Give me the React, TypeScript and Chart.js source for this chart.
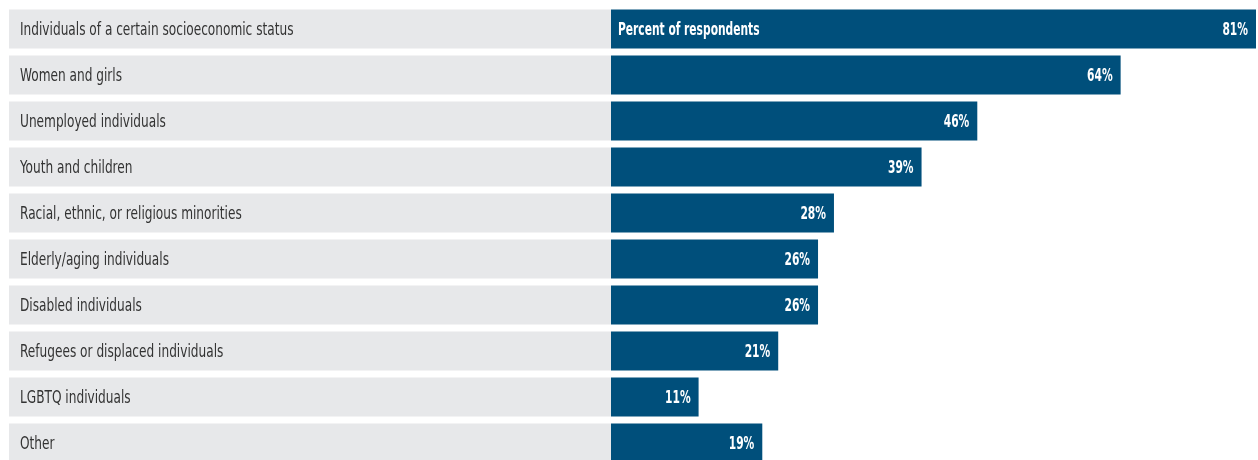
import React, { useEffect, useRef } from "react";
import { Chart, registerables } from "chart.js";

Chart.register(...registerables);

const categories: string[] = [
  "Individuals of a certain socioeconomic status",
  "Women and girls",
  "Unemployed individuals",
  "Youth and children",
  "Racial, ethnic, or religious minorities",
  "Elderly/aging individuals",
  "Disabled individuals",
  "Refugees or displaced individuals",
  "LGBTQ individuals",
  "Other",
];

const values: number[] = [81, 64, 46, 39, 28, 26, 26, 21, 11, 19];

const seriesTitle = "Percent of respondents";

const BAR_COLOR = "#004f7b";
const ROW_GRAY = "#e7e8ea";
const LABEL_COLOR = "#333333";
const FONT_FAMILY = "'DejaVu Sans Condensed', 'DejaVu Sans', sans-serif";
const LABEL_SX = 0.75;
const BOLD_SX = 0.66;

function drawText(
  ctx: CanvasRenderingContext2D,
  text: string,
  x: number,
  y: number,
  align: CanvasTextAlign,
  sx: number
) {
  ctx.save();
  ctx.translate(x, y);
  ctx.scale(sx, 1);
  ctx.textAlign = align;
  ctx.textBaseline = "middle";
  ctx.fillText(text, 0, 0);
  ctx.restore();
}

const rowsPlugin = {
  id: "rowsPlugin",
  beforeDatasetsDraw(chart: any) {
    const ctx = chart.ctx as CanvasRenderingContext2D;
    const meta = chart.getDatasetMeta(0);
    const area = chart.chartArea;
    ctx.save();
    meta.data.forEach((bar: any, i: number) => {
      const h = bar.height;
      ctx.fillStyle = ROW_GRAY;
      ctx.fillRect(9, bar.y - h / 2, area.left - 9, h);
      ctx.fillStyle = LABEL_COLOR;
      ctx.font = `18px ${FONT_FAMILY}`;
      drawText(ctx, categories[i], 20, bar.y + 1, "left", LABEL_SX);
    });
    ctx.restore();
  },
  afterDatasetsDraw(chart: any) {
    const ctx = chart.ctx as CanvasRenderingContext2D;
    const meta = chart.getDatasetMeta(0);
    const area = chart.chartArea;
    ctx.save();
    ctx.fillStyle = "#ffffff";
    ctx.font = `bold 18px ${FONT_FAMILY}`;
    meta.data.forEach((bar: any, i: number) => {
      drawText(ctx, `${values[i]}%`, bar.x - 8, bar.y + 1, "right", BOLD_SX);
    });
    const first = meta.data[0];
    drawText(ctx, seriesTitle, area.left + 7, first.y + 1, "left", BOLD_SX);
    ctx.restore();
  },
};

export default function App() {
  const ref = useRef<HTMLCanvasElement | null>(null);
  useEffect(() => {
    if (!ref.current) return;
    const chart = new Chart(ref.current, {
      type: "bar",
      data: {
        labels: categories,
        datasets: [
          {
            data: values,
            backgroundColor: BAR_COLOR,
            barPercentage: 39 / 46,
            categoryPercentage: 1,
          },
        ],
      },
      options: {
        indexAxis: "y",
        responsive: false,
        animation: false,
        events: [],
        layout: { padding: { left: 611, right: 2, top: 6, bottom: 4 } },
        plugins: { legend: { display: false }, tooltip: { enabled: false } },
        scales: {
          x: { display: false, min: 0, max: 81 },
          y: { display: false },
        },
      },
      plugins: [rowsPlugin],
    });
    return () => chart.destroy();
  }, []);
  return (
    <div style={{ position: "absolute", left: 0, top: 0, width: 1258, height: 460, overflow: "hidden", background: "#fff" }}>
      <canvas ref={ref} width={1258} height={470} style={{ width: 1258, height: 470, display: "block" }} />
    </div>
  );
}
